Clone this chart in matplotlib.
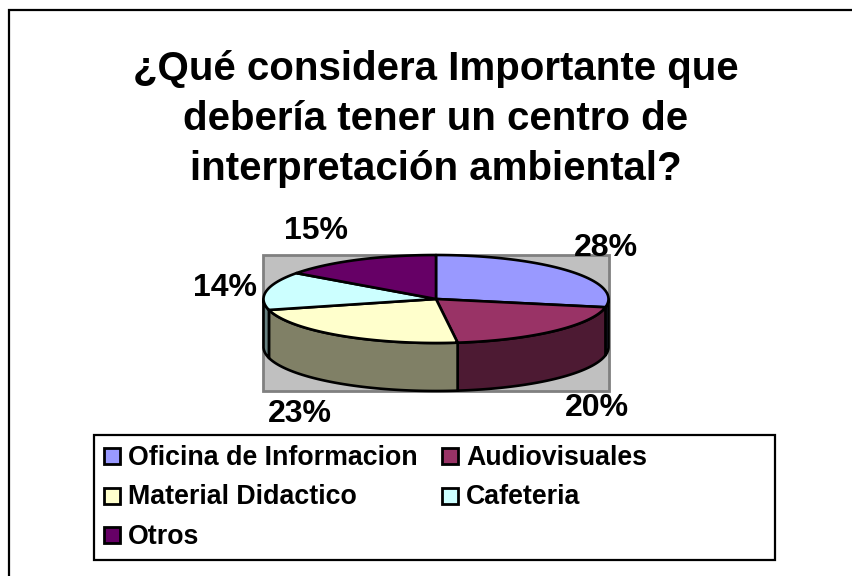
import numpy as np
import matplotlib
matplotlib.use("Agg")
import matplotlib.pyplot as plt
from matplotlib.patches import Rectangle, Polygon

title = ["¿Qué considera Importante que", "debería tener un centro de", "interpretación ambiental?"]
categories = ["Oficina de Informacion", "Audiovisuales", "Material Didactico", "Cafeteria", "Otros"]
values = [28, 20, 23, 14, 15]
top_colors = ["#9999FF", "#993366", "#FFFFCC", "#CCFFFF", "#660066"]
side_colors = ["#4D4D80", "#4D1A33", "#808066", "#668080", "#330033"]
label_pos = [(606, 248), (597, 408), (300, 414), (225, 288), (316, 231)]

W, H = 853, 576
cx, cy, rx, ry, depth = 436, 299, 172.5, 44, 48

plt.rcParams["font.family"] = "Liberation Sans"
fig = plt.figure(figsize=(W / 100, H / 100), dpi=100)
ax = fig.add_axes([0, 0, 1, 1])
ax.set_xlim(0, W)
ax.set_ylim(H, 0)
ax.axis("off")

# outer frame, right and bottom sides fall off the picture
ax.add_patch(Rectangle((9, 10), 900, 600, fc="white", ec="black", lw=1.6))

for line, ty in zip(title, [80, 130, 180]):
    ax.text(436, ty, line, ha="center", va="baseline", fontsize=29, fontweight="bold")

# grey plot area
ax.add_patch(Rectangle((263, 255), 346, 136, fc="#C0C0C0", ec="#808080", lw=2))


def rim(a0, a1):
    t = np.radians(np.linspace(a0, a1, 120))
    return cx + rx * np.sin(t), cy - ry * np.cos(t)


edges = np.concatenate([[0], np.cumsum(values)]) / sum(values) * 360

# side walls, only the part of the rim facing the viewer
for i in range(len(values)):
    a0, a1 = max(edges[i], 90), min(edges[i + 1], 270)
    if a0 >= a1:
        continue
    x, y = rim(a0, a1)
    pts = np.vstack([np.column_stack([x, y]), np.column_stack([x, y + depth])[::-1]])
    ax.add_patch(Polygon(pts, closed=True, fc=side_colors[i], ec="black", lw=1.9, joinstyle="round"))

# top faces
for i in range(len(values)):
    x, y = rim(edges[i], edges[i + 1])
    pts = np.vstack([[cx, cy], np.column_stack([x, y])])
    ax.add_patch(Polygon(pts, closed=True, fc=top_colors[i], ec="black", lw=1.9, joinstyle="round"))

for v, (lx, ly) in zip(values, label_pos):
    ax.text(lx, ly, f"{v}%", ha="center", va="center", fontsize=23, fontweight="bold")

# legend
ax.add_patch(Rectangle((94, 435), 681, 125, fc="white", ec="black", lw=1.6))
legend_y = [465, 504.5, 544]
for i, name in enumerate(categories):
    sx = [104, 442][i % 2]
    sy = legend_y[i // 2]
    ax.add_patch(Rectangle((sx, sy - 17), 16, 16, fc=top_colors[i], ec="black", lw=2))
    ax.text(sx + 24, sy, name, ha="left", va="baseline", fontsize=19.3, fontweight="bold")

fig.savefig("out.png", dpi=100)
